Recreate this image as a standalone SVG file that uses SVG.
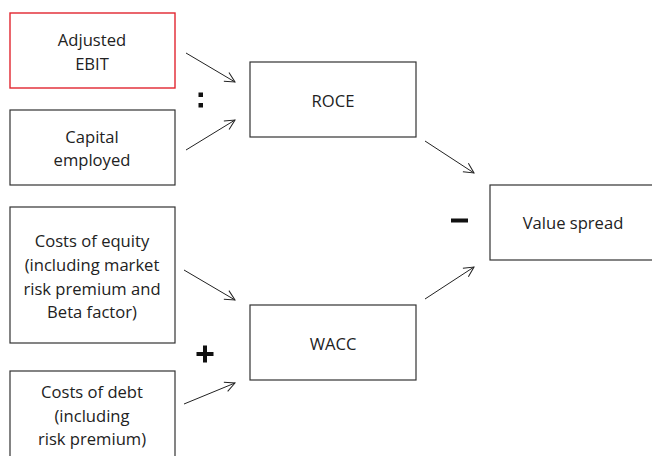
<svg xmlns="http://www.w3.org/2000/svg" width="652" height="456" viewBox="0 0 652 456">
<defs>
<marker id="ah" viewBox="0 0 12 12" refX="11" refY="6" markerWidth="12" markerHeight="12" markerUnits="userSpaceOnUse" orient="auto">
<path d="M1,1 L11,6 L1,11" fill="none" stroke="#222" stroke-width="1"/>
</marker>
<style>
.box{fill:#fff;stroke:#333;stroke-width:1.2}
.red{stroke:#e2262f;stroke-width:1.4}
text{font-family:"Open Sans","Noto Sans",sans-serif;font-size:16.6px;fill:#222;text-anchor:middle}
.c line{stroke:#222;stroke-width:1;marker-end:url(#ah)}
</style>
</defs>
<rect width="652" height="456" fill="#fff"/>
<g id="adjusted-ebit"><rect class="box red" x="10" y="13" width="165" height="75"/><text x="92" y="46">Adjusted</text><text x="92" y="70">EBIT</text></g>
<g id="capital-employed"><rect class="box" x="10" y="110" width="165" height="75"/><text x="92" y="143">Capital</text><text x="92" y="166">employed</text></g>
<g id="costs-equity"><rect class="box" x="10" y="207" width="165" height="136"/><text x="92" y="247">Costs of equity</text><text x="92" y="271">(including market</text><text x="92" y="295">risk premium and</text><text x="92" y="318">Beta factor)</text></g>
<g id="costs-debt"><rect class="box" x="10" y="371" width="165" height="100"/><text x="92" y="398">Costs of debt</text><text x="92" y="422">(including</text><text x="92" y="445">risk premium)</text></g>
<g id="roce"><rect class="box" x="250" y="62" width="166" height="75"/><text x="333" y="107">ROCE</text></g>
<g id="wacc"><rect class="box" x="250" y="305" width="166" height="75"/><text x="333" y="350">WACC</text></g>
<g id="value-spread"><rect class="box" x="490" y="185" width="170" height="75"/><text x="573" y="229">Value spread</text></g>
<g id="operators" fill="#111">
<rect x="198.5" y="92.5" width="4.5" height="4.5"/><rect x="198.5" y="103" width="4.5" height="4.5"/>
<rect x="196.5" y="352" width="17" height="4"/><rect x="203" y="345.5" width="4" height="17"/>
<rect x="451" y="218.5" width="17" height="4"/>
</g>
<g class="c" id="connectors">
<line x1="186" y1="53" x2="235" y2="82"/>
<line x1="186" y1="150" x2="235" y2="120"/>
<line x1="184" y1="270" x2="235" y2="300"/>
<line x1="184" y1="404" x2="235" y2="383"/>
<line x1="425" y1="141" x2="474" y2="173"/>
<line x1="425" y1="299" x2="474" y2="267"/>
</g>
</svg>
